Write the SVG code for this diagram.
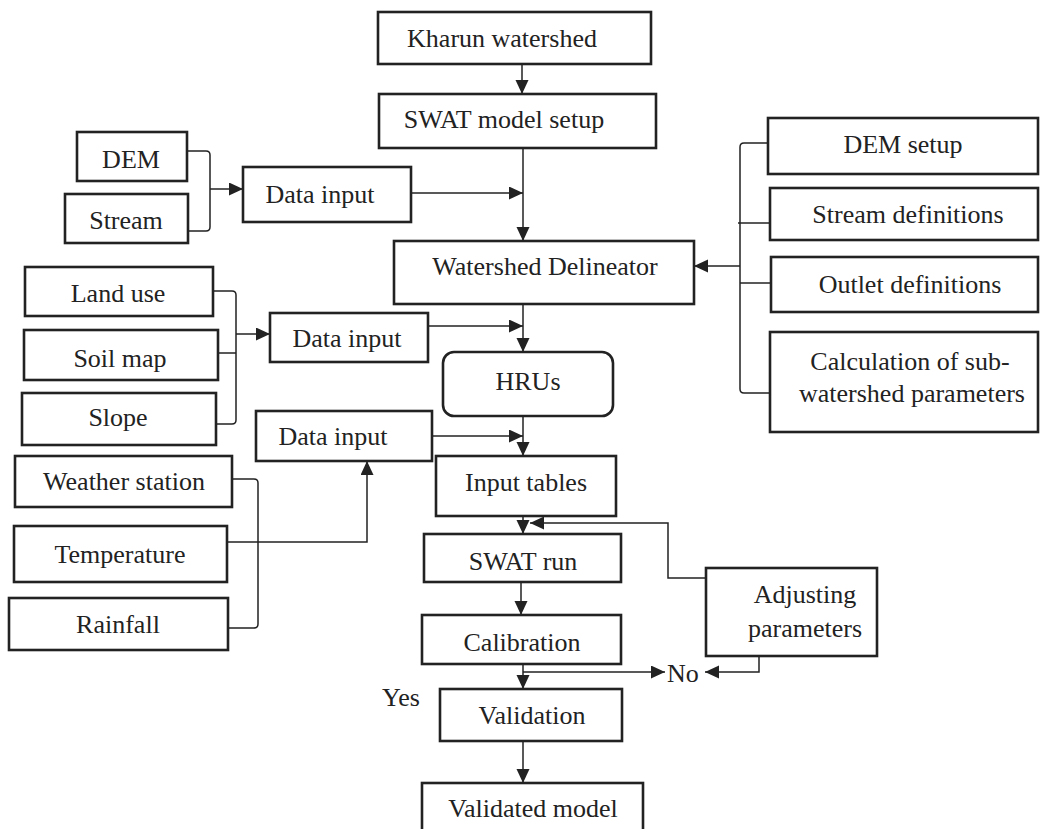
<svg xmlns="http://www.w3.org/2000/svg" width="1040" height="829" viewBox="0 0 1040 829">
  <style>
    .box { fill: #ffffff; fill-opacity: 0.6; stroke: #222222; stroke-width: 2.6; }
    .lbl { font-family: "Liberation Serif", "Times New Roman", serif; font-size: 26px; fill: #222222; text-anchor: middle; }
    .lbl-l { font-family: "Liberation Serif", "Times New Roman", serif; font-size: 26px; fill: #222222; }
    .ln { fill: none; stroke: #222222; stroke-width: 1.5; }
    .ar { fill: none; stroke: #222222; stroke-width: 1.5; marker-end: url(#head); }
  </style>
  <defs>
    <marker id="head" markerUnits="userSpaceOnUse" markerWidth="15" markerHeight="14" refX="14" refY="6.5" orient="auto">
      <path d="M0,0 L14,6.5 L0,13 z" fill="#222222"/>
    </marker>
  </defs>

  <rect x="0" y="0" width="1040" height="829" fill="#ffffff"/>

  <!-- connectors -->
  <g id="connectors">
    <path class="ar" d="M522 64 V94"/>
    <path class="ar" d="M523 148 V241"/>
    <path class="ar" d="M411 193 H523"/>
    <path class="ln" d="M188 151 H206 Q210 151 210 155 V227 Q210 231 206 231 H188"/>
    <path class="ar" d="M210 189 H243"/>
    <path class="ln" d="M768 143 H744 Q740 143 740 147 V389 Q740 393 744 393 H770"/>
    <path class="ln" d="M738 223 H770"/>
    <path class="ln" d="M740 283 H771"/>
    <path class="ar" d="M740 266 H694"/>
    <path class="ln" d="M213 291 H232 Q236 291 236 295 V420 Q236 424 232 424 H216"/>
    <path class="ln" d="M218 353 H236"/>
    <path class="ar" d="M236 334 H270"/>
    <path class="ar" d="M428 326 H523"/>
    <path class="ar" d="M523 304 V352"/>
    <path class="ar" d="M432 436 H523"/>
    <path class="ar" d="M523 416 V456"/>
    <path class="ln" d="M232 479 H254 Q258 479 258 483 V624 Q258 628 254 628 H228"/>
    <path class="ar" d="M227 542 H367 V461"/>
    <path class="ar" d="M523 516 V534"/>
    <path class="ar" d="M706 578 H668 V523 H530"/>
    <path class="ar" d="M521 582 V615"/>
    <path class="ar" d="M523 664 V689"/>
    <path class="ar" d="M523 672 H665"/>
    <path class="ar" d="M759 656 V672 H705"/>
    <path class="ar" d="M523 741 V783"/>
  </g>

  <!-- main chain -->
  <g id="kharun-watershed">
    <rect class="box" x="378" y="12" width="273" height="52"/>
    <text class="lbl" x="502" y="47">Kharun watershed</text>
  </g>
  <g id="swat-model-setup">
    <rect class="box" x="379" y="94" width="277" height="54"/>
    <text class="lbl" x="504" y="128">SWAT model setup</text>
  </g>
  <g id="watershed-delineator">
    <rect class="box" x="394" y="241" width="300" height="63"/>
    <text class="lbl" x="545" y="275">Watershed Delineator</text>
  </g>
  <g id="hrus">
    <rect class="box" x="443" y="352" width="170" height="64" rx="11" ry="11"/>
    <text class="lbl" x="528" y="390">HRUs</text>
  </g>
  <g id="input-tables">
    <rect class="box" x="436" y="456" width="180" height="60"/>
    <text class="lbl" x="526" y="491">Input tables</text>
  </g>
  <g id="swat-run">
    <rect class="box" x="424" y="534" width="197" height="48"/>
    <text class="lbl" x="523" y="570">SWAT run</text>
  </g>
  <g id="calibration">
    <rect class="box" x="422" y="615" width="199" height="49"/>
    <text class="lbl" x="522" y="651">Calibration</text>
  </g>
  <g id="validation">
    <rect class="box" x="440" y="689" width="182" height="52"/>
    <text class="lbl" x="532" y="724">Validation</text>
  </g>
  <g id="validated-model">
    <rect class="box" x="422" y="783" width="221" height="60"/>
    <text class="lbl" x="533" y="817">Validated model</text>
  </g>
  <g id="adjusting-parameters">
    <rect class="box" x="706" y="568" width="171" height="88"/>
    <text class="lbl" x="805" y="603">Adjusting</text>
    <text class="lbl" x="805" y="637">parameters</text>
  </g>
  <g id="decision-labels">
    <text class="lbl-l" x="667" y="682">No</text>
    <text class="lbl-l" x="382" y="706">Yes</text>
  </g>

  <!-- topography inputs -->
  <g id="dem">
    <rect class="box" x="77" y="132" width="110" height="49"/>
    <text class="lbl" x="131" y="168">DEM</text>
  </g>
  <g id="stream">
    <rect class="box" x="65" y="194" width="123" height="49"/>
    <text class="lbl" x="126" y="229">Stream</text>
  </g>
  <g id="data-input-1">
    <rect class="box" x="243" y="167" width="168" height="55"/>
    <text class="lbl" x="320" y="203">Data input</text>
  </g>

  <!-- land inputs -->
  <g id="land-use">
    <rect class="box" x="25" y="267" width="188" height="49"/>
    <text class="lbl" x="118" y="302">Land use</text>
  </g>
  <g id="soil-map">
    <rect class="box" x="24" y="330" width="194" height="50"/>
    <text class="lbl" x="120" y="367">Soil map</text>
  </g>
  <g id="slope">
    <rect class="box" x="22" y="393" width="194" height="52"/>
    <text class="lbl" x="118" y="426">Slope</text>
  </g>
  <g id="data-input-2">
    <rect class="box" x="270" y="313" width="158" height="49"/>
    <text class="lbl" x="347" y="347">Data input</text>
  </g>

  <!-- weather inputs -->
  <g id="data-input-3">
    <rect class="box" x="256" y="411" width="176" height="50"/>
    <text class="lbl" x="333" y="445">Data input</text>
  </g>
  <g id="weather-station">
    <rect class="box" x="15" y="456" width="217" height="51"/>
    <text class="lbl" x="124" y="490">Weather station</text>
  </g>
  <g id="temperature">
    <rect class="box" x="14" y="526" width="213" height="56"/>
    <text class="lbl" x="120" y="563">Temperature</text>
  </g>
  <g id="rainfall">
    <rect class="box" x="9" y="598" width="219" height="52"/>
    <text class="lbl" x="118" y="633">Rainfall</text>
  </g>

  <!-- delineation steps -->
  <g id="dem-setup">
    <rect class="box" x="768" y="118" width="270" height="56"/>
    <text class="lbl" x="903" y="153">DEM setup</text>
  </g>
  <g id="stream-definitions">
    <rect class="box" x="770" y="188" width="268" height="52"/>
    <text class="lbl" x="908" y="223">Stream definitions</text>
  </g>
  <g id="outlet-definitions">
    <rect class="box" x="771" y="257" width="267" height="55"/>
    <text class="lbl" x="910" y="293">Outlet definitions</text>
  </g>
  <g id="sub-watershed-parameters">
    <rect class="box" x="770" y="332" width="268" height="100"/>
    <text class="lbl" x="910" y="370">Calculation of sub-</text>
    <text class="lbl" x="912" y="402">watershed parameters</text>
  </g>
</svg>
